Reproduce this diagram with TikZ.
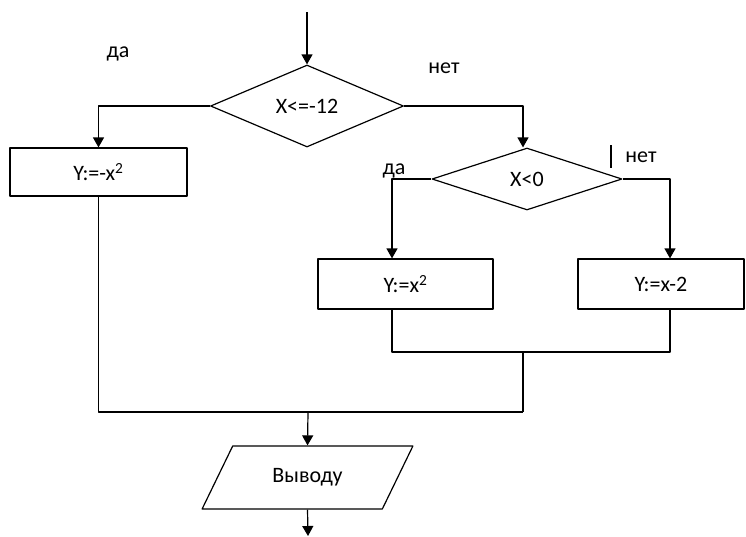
\documentclass[tikz,border=0pt]{standalone}
\usepackage{fontspec}
\setmainfont{Carlito}
\usetikzlibrary{shapes.geometric,arrows.meta}
\tikzset{
  ln/.style={line width=1.2pt},
  ar/.style={ln,-{Triangle[length=10pt,width=11pt]}},
  cond/.style={diamond,draw,ln,inner sep=0pt,aspect=2.3},
  act/.style={rectangle,draw,ln,inner sep=0pt},
  io/.style={trapezium,draw,ln,trapezium left angle=51,trapezium right angle=129,
    trapezium stretches=true,minimum width=211pt,minimum height=63pt,inner sep=0pt},
  lbl/.style={inner sep=0pt}
}
\begin{document}
\begin{tikzpicture}[x=1pt,y=-1pt,font=\fontsize{22}{26}\selectfont,line join=round]
\useasboundingbox (0,0) rectangle (746,536);
\node[cond,minimum width=193pt,minimum height=82pt] (d1) at (307,106) {X<=-12};
\node[cond,minimum width=190pt,minimum height=62pt] (d2) at (527,179) {X<0};
\node[act,minimum width=177pt,minimum height=48pt] (b1) at (98.5,172) {Y:=-x\textsuperscript{2}};
\node[act,minimum width=175pt,minimum height=50pt] (b2) at (405.5,284) {Y:=x\textsuperscript{2}};
\node[act,minimum width=166pt,minimum height=50pt] (b3) at (661,284) {Y:=x-2};
\node[io] (out) at (307.5,477.5) {Выводу};
\coordinate (start) at (307,12);
\coordinate (stop) at (308,536);
\coordinate (m1) at (523,352);
\coordinate (m2) at (523,412);
\coordinate (j) at (308,412);
% labels
\node[lbl] (yes1) at (118,54) {да};
\node[lbl] (no1) at (444,68) {нет};
\node[lbl] (yes2) at (394,171) {да};
\node[lbl] (no2) at (641,157) {нет};
\draw[line width=2.6pt] (611,145) -- (611,168);
% connectors
\draw[ar] (start) -- (d1.north);
\draw[ar] (d1.west) -| (b1.north);
\draw[ar] (d1.east) -| ([xshift=-4pt]d2.north);
\draw[ar] (d2.west) -| ([xshift=-13.5pt]b2.north);
\draw[ar] (d2.east) -| ([xshift=9pt]b3.north);
\draw[ln] ([xshift=-13.5pt]b2.south) |- (m1);
\draw[ln] ([xshift=9pt]b3.south) |- (m1);
\draw[ln] (m1) -- (m2);
\draw[ln] (b1.south) |- (m2);
\draw[ar] (j) -- (out.north);
\draw[ar] (out.south) -- (stop);
\end{tikzpicture}
\end{document}
